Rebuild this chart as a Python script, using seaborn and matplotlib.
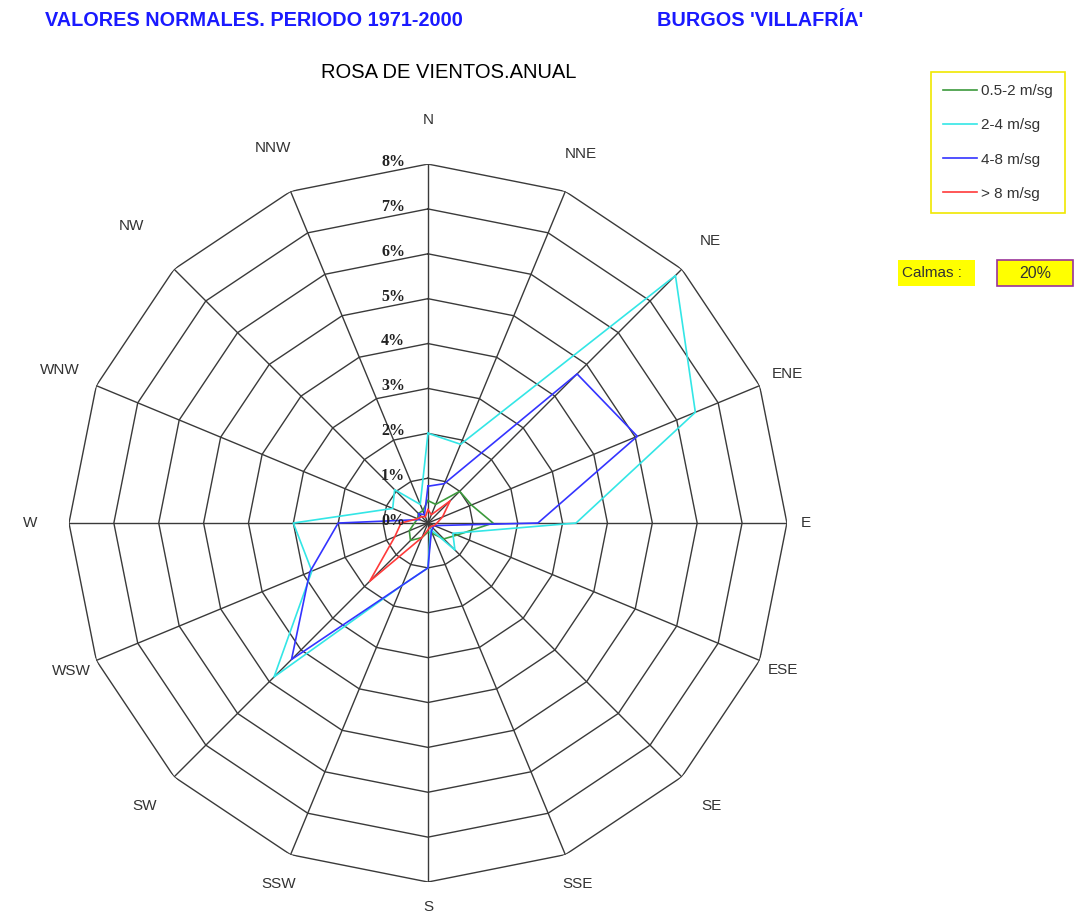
import numpy as np
import pandas as pd
import matplotlib.pyplot as plt
from matplotlib.patches import Rectangle
import seaborn as sns

plt.rcParams['font.family'] = ['Liberation Sans', 'DejaVu Sans']

# wind directions, clockwise from north
directions = ["N", "NNE", "NE", "ENE", "E", "ESE", "SE", "SSE",
              "S", "SSW", "SW", "WSW", "W", "WNW", "NW", "NNW"]

# frequency (%) per direction and speed class
speed_05_2 = [0.5, 0.45, 1.0, 1.05, 1.45, 0.7, 0.5, 0.25,
              0.2, 0.35, 0.55, 0.45, 0.3, 0.25, 0.3, 0.3]
speed_2_4 = [2.0, 1.9, 7.8, 6.45, 3.3, 0.6, 0.85, 0.15,
             1.0, 1.5, 4.85, 2.8, 3.0, 0.85, 1.05, 0.45]
speed_4_8 = [0.82, 0.95, 4.7, 5.05, 2.45, 0.15, 0.15, 0.2,
             1.0, 1.5, 4.3, 2.85, 2.0, 0.2, 0.3, 0.2]
speed_8 = [0.3, 0.2, 0.7, 0.35, 0.2, 0.15, 0.1, 0.1,
           0.15, 0.35, 1.84, 0.8, 0.6, 0.25, 0.2, 0.15]

series_names = ["0.5-2 m/sg", "2-4 m/sg", "4-8 m/sg", "> 8 m/sg"]
series_colors = ["#3c9a3c", "#33e6e6", "#3434ff", "#ff3a3a"]
rings = [0, 1, 2, 3, 4, 5, 6, 7, 8]
calmas = "20%"

# where the direction names sit (radius in % units)
label_radius = [8.98, 8.9, 8.9, 8.66, 8.42, 8.57, 8.93, 8.71,
                8.55, 8.71, 8.93, 8.6, 8.86, 8.89, 9.35, 9.04]

theta = np.deg2rad(np.arange(len(directions)) * 22.5)
theta_closed = np.append(theta, 2 * np.pi)

rows = []
for name, vals in zip(series_names, [speed_05_2, speed_2_4, speed_4_8, speed_8]):
    for t, v in zip(theta_closed, vals + vals[:1]):
        rows.append({"theta": t, "pct": v, "serie": name})
df = pd.DataFrame(rows)

fig = plt.figure(figsize=(10.87, 9.16), dpi=100)
ax = fig.add_axes([0.0634, 0.0371, 0.6606, 0.7838], projection="polar")
ax.set_theta_zero_location("N")
ax.set_theta_direction(-1)
ax.grid(False)
ax.spines["polar"].set_visible(False)

# polygon rings and spokes
grid_color = "#3a3a3a"
for r in rings[1:]:
    ax.plot(theta_closed, [r] * len(theta_closed), color=grid_color, lw=1.0, zorder=1)
for t in theta:
    ax.plot([t, t], [0, rings[-1]], color=grid_color, lw=1.0, zorder=1)

sns.lineplot(data=df, x="theta", y="pct", hue="serie", palette=series_colors,
             sort=False, estimator=None, lw=1.2, ax=ax, zorder=3)

ax.set_ylim(0, rings[-1])
ax.set_xticks([])
ax.set_yticks([])
ax.set_xlabel("")
ax.set_ylabel("")

# direction labels
for t, lab, lr in zip(theta, directions, label_radius):
    ax.text(t, lr, lab, ha="center", va="center", fontsize=11, color="#333333")

# ring labels
for r in rings:
    ax.annotate(f"{r}%", xy=(0, r), xytext=(-16.5, 1.5), textcoords="offset points",
                ha="right", va="center", fontsize=11.5, fontweight="bold",
                color="#222222", family=["Liberation Serif", "DejaVu Serif"])

sns.move_legend(ax, "upper left", bbox_to_anchor=(931 / 1087, 1 - 72 / 916),
                bbox_transform=fig.transFigure, title=None, frameon=True,
                fancybox=False, fontsize=11, handlelength=2.2,
                handletextpad=0.25, labelspacing=1.32, borderpad=0.8,
                borderaxespad=0, framealpha=1)
leg = ax.get_legend()
leg.get_frame().set_edgecolor("#f0e800")
leg.get_frame().set_linewidth(1.2)
for txt in leg.get_texts():
    txt.set_color("#333333")

# titles
fig.text(45 / 1087, 1 - 20 / 916, "VALORES NORMALES. PERIODO 1971-2000",
         color="#1a1aff", fontsize=14.3, fontweight="bold", va="center", ha="left")
fig.text(657 / 1087, 1 - 20 / 916, "BURGOS 'VILLAFRÍA'",
         color="#1a1aff", fontsize=14.3, fontweight="bold", va="center", ha="left")
fig.text(449 / 1087, 1 - 73 / 916, "ROSA DE VIENTOS.ANUAL",
         color="black", fontsize=14.5, va="center", ha="center")

# calms box
fig.patches.append(Rectangle((898 / 1087, 1 - 286 / 916), 77 / 1087, 26 / 916,
                             transform=fig.transFigure, facecolor="#ffff00",
                             edgecolor="none"))
fig.patches.append(Rectangle((997 / 1087, 1 - 286 / 916), 76 / 1087, 26 / 916,
                             transform=fig.transFigure, facecolor="#ffff00",
                             edgecolor="#993399", lw=1.2))
fig.text(902 / 1087, 1 - 273 / 916, "Calmas :", fontsize=11, color="#333333",
         va="center", ha="left")
fig.text(1035 / 1087, 1 - 273 / 916, calmas, fontsize=11.5, color="#333333",
         va="center", ha="center")

fig.savefig("out.png", dpi=100)
